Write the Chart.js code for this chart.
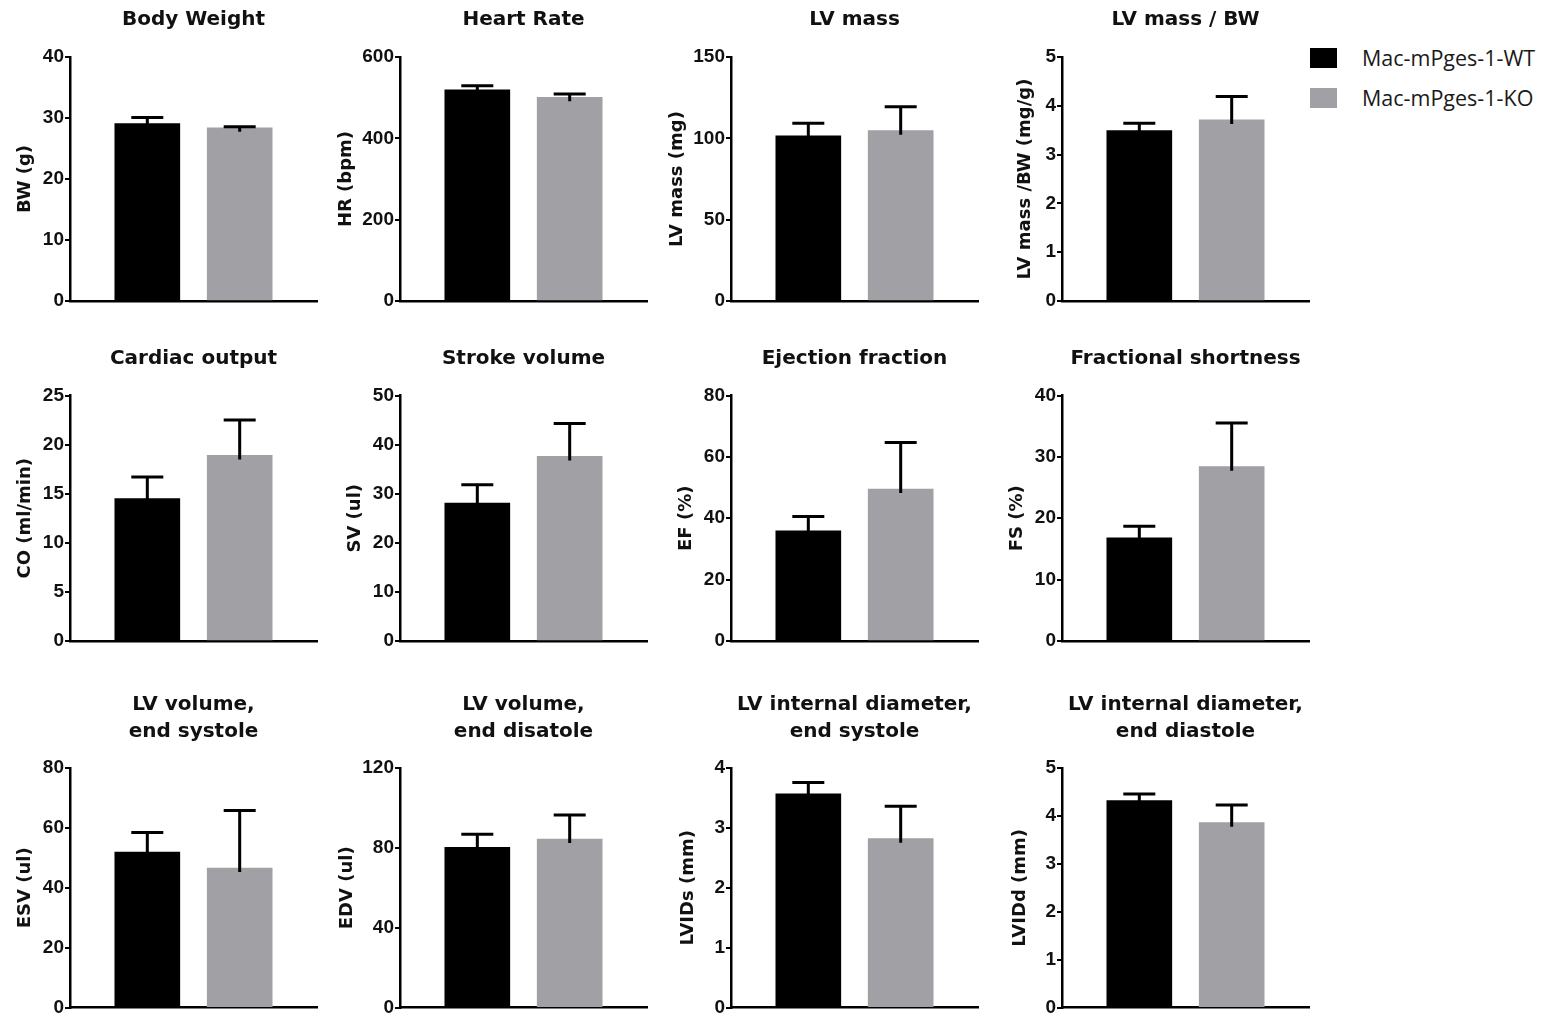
<!DOCTYPE html>
<html>
<head>
<meta charset="utf-8">
<script src="https://cdn.jsdelivr.net/npm/chart.js@4/dist/chart.umd.min.js"></script>
<style>
  html,body{margin:0;padding:0;background:#fff;}
  body{width:1541px;height:1020px;position:relative;overflow:hidden;}
  canvas{position:absolute;}
  .leg{position:absolute;left:1310px;font-family:"Open Sans",sans-serif;font-size:21.5px;color:#1a1a1a;display:flex;align-items:center;}
  .sw{width:27px;height:20px;margin-right:25px;}
</style>
</head>
<body>
<div class="leg" style="top:43px;"><div class="sw" style="background:#000"></div><span id="l0"></span></div>
<div class="leg" style="top:83px;"><div class="sw" style="background:#a1a1a5"></div><span id="l1"></span></div>
<script>
// ---- data ----
const groups = ['Mac-mPges-1-WT', 'Mac-mPges-1-KO'];
const titles = [
  'Body Weight', 'Heart Rate', 'LV mass', 'LV mass / BW',
  'Cardiac output', 'Stroke volume', 'Ejection fraction', 'Fractional shortness',
  ['LV volume,', 'end systole'], ['LV volume,', 'end disatole'],
  ['LV internal diameter,', 'end systole'], ['LV internal diameter,', 'end diastole']
];
const yLabels = [
  'BW (g)', 'HR (bpm)', 'LV mass (mg)', 'LV mass /BW (mg/g)',
  'CO (ml/min)', 'SV (ul)', 'EF (%)', 'FS (%)',
  'ESV (ul)', 'EDV (ul)', 'LVIDs (mm)', 'LVIDd (mm)'
];
const wtMean = [29.1, 519, 101.5, 3.49, 14.5, 28.1, 35.9, 16.8, 51.9, 80.3, 3.57, 4.32];
const wtErr  = [1.0, 10, 7.7, 0.15, 2.2, 3.7, 4.7, 1.9, 6.6, 6.5, 0.19, 0.14];
const koMean = [28.4, 501, 104.7, 3.71, 18.9, 37.6, 49.5, 28.4, 46.6, 84.4, 2.82, 3.86];
const koErr  = [0.15, 8, 14.7, 0.48, 3.6, 6.7, 15.2, 7.1, 19.2, 12.0, 0.54, 0.37];
const yMax   = [40, 600, 150, 5, 25, 50, 80, 40, 80, 120, 4, 5];
const yStep  = [10, 200, 50, 1, 5, 10, 20, 10, 20, 40, 1, 1];

// ---- styling / layout ----
const colors = ['#000000', '#a1a1a5'];
const colLeft = [0, 330, 661, 992];
const rowTop = [0, 340, 680];
const rowH = [320, 320, 340];
const xBelow = [19, 19, 9];
const titlePad = [{top: 6.5, bottom: 23.5}, {top: 5.5, bottom: 23}, {top: 11.5, bottom: 22.5}];
const axisTitleCenter = [25, 16, 16, 33, 25, 25, 25, 25, 25, 17, 27, 28];
const CW = 330;

document.getElementById('l0').textContent = groups[0];
document.getElementById('l1').textContent = groups[1];

const errorBars = {
  id: 'errorBars',
  afterDatasetsDraw(chart) {
    const ctx = chart.ctx;
    const ys = chart.scales.y;
    ctx.save();
    ctx.strokeStyle = '#000';
    ctx.lineWidth = 3;
    chart.data.datasets.forEach((ds, di) => {
      const meta = chart.getDatasetMeta(di);
      meta.data.forEach((bar, i) => {
        const v = ds.data[i].y;
        const e = ds.errors[i];
        const yt = ys.getPixelForValue(v + e);
        ctx.beginPath();
        ctx.moveTo(bar.x, bar.y + 4);
        ctx.lineTo(bar.x, yt);
        ctx.moveTo(bar.x - 16, yt);
        ctx.lineTo(bar.x + 16, yt);
        ctx.stroke();
      });
    });
    ctx.restore();
  }
};

for (let k = 0; k < 12; k++) {
  const r = Math.floor(k / 4), c = k % 4;
  const cv = document.createElement('canvas');
  cv.width = CW; cv.height = rowH[r];
  cv.style.left = colLeft[c] + 'px';
  cv.style.top = rowTop[r] + 'px';
  document.body.appendChild(cv);
  new Chart(cv, {
    type: 'bar',
    data: {
      datasets: [
        {label: groups[0], data: [{x: 1, y: wtMean[k]}], errors: [wtErr[k]], backgroundColor: colors[0], borderWidth: 0},
        {label: groups[1], data: [{x: 2, y: koMean[k]}], errors: [koErr[k]], backgroundColor: colors[1], borderWidth: 0}
      ]
    },
    options: {
      responsive: false,
      animation: false,
      events: [],
      layout: {padding: {left: 4, right: CW - 70 - 247, top: 0, bottom: 0}},
      datasets: {bar: {grouped: false, barThickness: 65}},
      plugins: {
        legend: {display: false},
        tooltip: {enabled: false},
        title: {
          display: true,
          text: titles[k],
          fullSize: false,
          color: '#111',
          font: {family: 'DejaVu Sans', weight: 'bold', size: 20, lineHeight: 1.35},
          padding: titlePad[r]
        }
      },
      scales: {
        x: {
          type: 'linear',
          offset: false,
          min: 1 - 0.837, max: 2 + 0.837,
          z: 1,
          ticks: {display: false},
          grid: {display: false, offset: false},
          border: {display: true, color: '#000', width: 2.5},
          afterFit: (s) => { s.height = xBelow[r]; }
        },
        y: {
          min: 0, max: yMax[k],
          ticks: {stepSize: yStep[k], padding: 1, color: '#111',
                  font: {family: 'Liberation Sans', weight: 'bold', size: 19}},
          grid: {drawOnChartArea: false, drawTicks: true, tickLength: 5, color: '#000', lineWidth: 2},
          border: {display: true, color: '#000', width: 2.5},
          title: {display: true, text: yLabels[k], color: '#111',
                  padding: {top: axisTitleCenter[k] - 14.8, bottom: 0},
                  font: {family: 'DejaVu Sans', weight: 'bold', size: 18}},
          afterFit: (s) => { s.width = 66; }
        }
      }
    },
    plugins: [errorBars]
  });
}
</script>
</body>
</html>
